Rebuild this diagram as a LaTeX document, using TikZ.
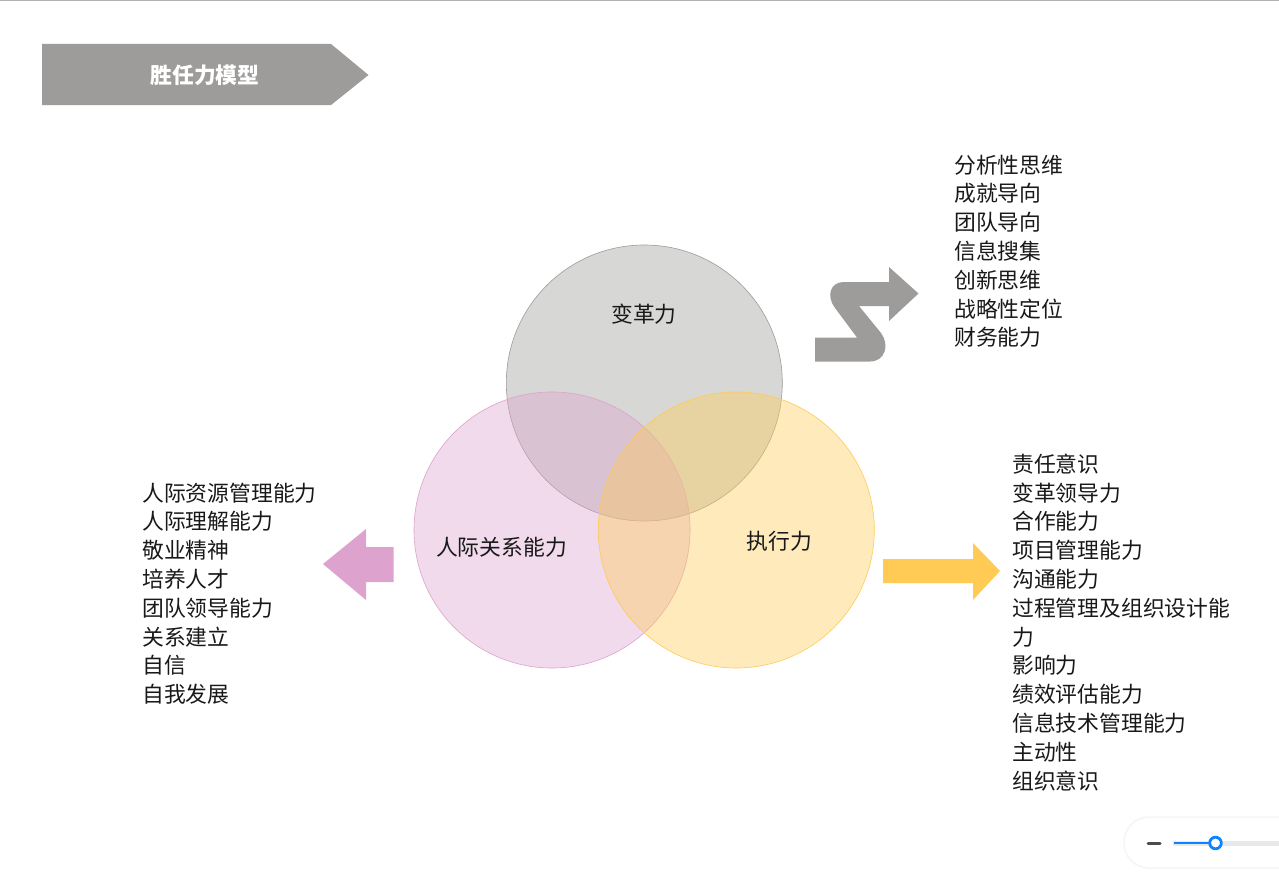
\documentclass[tikz,border=0pt]{standalone}
\usepackage{fontspec}
\setmainfont{Noto Sans CJK SC}
\usepackage{tikz}
\definecolor{bargray}{HTML}{9D9C9A}
\definecolor{rosepink}{HTML}{DDA3CE}
\definecolor{sunyellow}{HTML}{FFCB55}
\definecolor{sliderblue}{HTML}{0A84FF}
\tikzset{
    circlabel/.style={font=\fontsize{21.8}{26}\selectfont, inner sep=0pt, text=black!90},
    listtext/.style={font=\fontsize{21.8}{28.8}\selectfont, inner sep=0pt, anchor=north west, align=left, text=black!90},
    bubble/.style={fill opacity=0.4, draw opacity=1, line width=0.6pt}
}
\begin{document}
\begin{tikzpicture}[x=1pt,y=-1pt]
            \useasboundingbox (0,0) rectangle (1279,891);
            \fill[white] (0,0) rectangle (1279,891);
            \draw[line width=1.5pt,black!30] (0,0.5) -- (1279,0.5);
            % header
            \fill[bargray] (42,44) -- (331,44) -- (368.5,75) -- (331,105) -- (42,105) -- cycle;
            \node[circlabel,text=white,font=\fontsize{21.8}{26}\selectfont\bfseries] (header) at (205,75) {胜任力模型};
            % circles
            \draw[bubble,fill=bargray,draw=bargray] (644.3,383) circle (138);
            \draw[bubble,fill=rosepink,draw=rosepink] (552,530) circle (138);
            \draw[bubble,fill=sunyellow,draw=sunyellow] (736.3,530) circle (138);
            \node[circlabel] (change) at (644,314) {变革力};
            \node[circlabel] (people) at (501.5,547) {人际关系能力};
            \node[circlabel] (execute) at (779.5,541) {执行力};
            % arrows
            \fill[bargray] (815,337.5) -- (857,337.5) -- (835,308)
                .. controls (826,296) and (830,282) .. (844,282)
                -- (889,282) -- (889,267) -- (918.5,293.5) -- (889,321) -- (889,306) -- (859,306)
                -- (881,333) .. controls (890,345) and (885,361.5) .. (870,361.5)
                -- (815,361.5) -- cycle;
            \fill[rosepink] (323,564) -- (366,529) -- (366,547) -- (393.5,547) -- (393.5,582) -- (366,582) -- (366,600) -- cycle;
            \fill[sunyellow] (883,559) -- (973,559) -- (973,543) -- (1000,571) -- (973,600) -- (973,583) -- (883,583) -- cycle;
            % lists
            \node[listtext] (changelist) at (954,154.5) {分析性思维\\成就导向\\团队导向\\信息搜集\\创新思维\\战略性定位\\财务能力};
            \node[listtext] (peoplelist) at (142,482.5) {人际资源管理能力\\人际理解能力\\敬业精神\\培养人才\\团队领导能力\\关系建立\\自信\\自我发展};
            \node[listtext] (executelist) at (1012,453.5) {责任意识\\变革领导力\\合作能力\\项目管理能力\\沟通能力\\过程管理及组织设计能\\力\\影响力\\绩效评估能力\\信息技术管理能力\\主动性\\组织意识};
            % slider
            \draw[black!4,line width=1.5pt,fill=white,rounded corners=25pt] (1124,817) rectangle (1310,868);
            \draw[line width=3pt,black!70,line cap=round] (1148,843) -- (1160,843);
            \draw[line width=5pt,black!9] (1173,843) -- (1279,843);
            \draw[line width=2pt,sliderblue] (1174,843) -- (1215,843);
            \draw[line width=2.8pt,sliderblue,fill=white] (1215.5,843) circle (5.8);
        \end{tikzpicture}
\end{document}
